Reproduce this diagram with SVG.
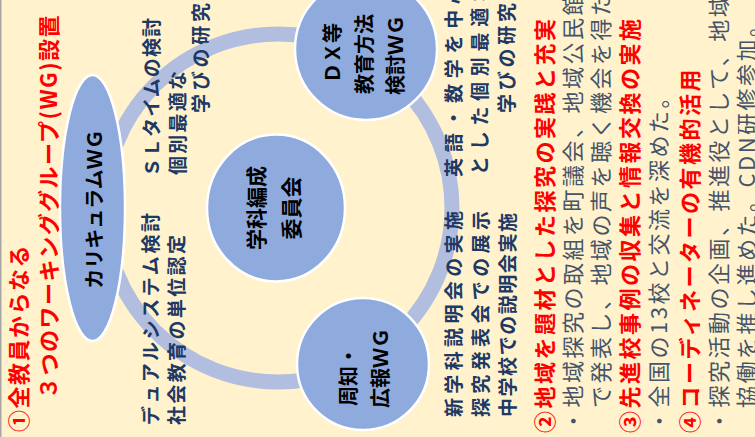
<svg xmlns="http://www.w3.org/2000/svg" width="755" height="437" viewBox="0 0 755 437">
<style>
text{font-family:'Noto Sans CJK JP','Noto Sans',sans-serif;dominant-baseline:central}
.node{fill:#8FAADC;stroke:#FFFFFF;stroke-width:2.5}
.nl{font-size:20px;font-weight:bold;fill:#000000}
.nv{font-size:19px;font-weight:bold;fill:#203864}
.hd{font-size:22px;font-weight:bold;fill:#FF0000;letter-spacing:2.5px}
.tt{font-size:22px;font-weight:bold;fill:#FF0000;letter-spacing:1.5px}
.bd{font-size:22px;fill:#44546A;letter-spacing:2.5px}
.ring{fill:none;stroke:#B1BEE0;stroke-width:15}
</style>
<rect x="0" y="0" width="755" height="437" fill="#FFF2CC"/>
<rect x="0" y="0" width="1.5" height="437" fill="#A6A6A6"/>
<g transform="matrix(0,-1,1,0,0,437)">
  <g id="connectors">
    <circle class="ring" cx="229" cy="278" r="174"/>
  </g>
  <g id="title">
    <text class="tt" x="5" y="17">①全教員からなる</text>
    <text class="tt" x="38" y="46.5">３つのワーキンググループ(WG)設置</text>
  </g>
  <g id="node-curriculum">
    <ellipse class="node" cx="229" cy="92.5" rx="133" ry="32.5"/>
    <text class="nl" x="228" y="93.5" text-anchor="middle">カリキュラムＷＧ</text>
  </g>
  <g id="node-committee">
    <ellipse class="node" cx="229" cy="276" rx="73.5" ry="69"/>
    <text class="nl" x="229" y="255" text-anchor="middle" style="font-size:21px">学科編成</text>
    <text class="nl" x="229" y="290" text-anchor="middle" style="font-size:21px">委員会</text>
  </g>
  <g id="node-dx">
    <circle class="node" cx="388" cy="366" r="71"/>
    <text class="nl" x="384" y="331" text-anchor="middle">ＤＸ等</text>
    <text class="nl" x="383" y="363" text-anchor="middle">教育方法</text>
    <text class="nl" x="382" y="394" text-anchor="middle">検討ＷＧ</text>
  </g>
  <g id="node-pr">
    <circle class="node" cx="73" cy="363" r="66"/>
    <text class="nl" x="31" y="347.5">周知・</text>
    <text class="nl" x="29" y="379">広報ＷＧ</text>
  </g>
  <g id="label-curriculum">
    <text class="nv" x="260" y="150" textLength="159" lengthAdjust="spacing">ＳＬタイムの検討</text>
    <text class="nv" x="262" y="176" textLength="104" lengthAdjust="spacing">個別最適な</text>
    <text class="nv" x="324" y="199" textLength="110" lengthAdjust="spacing">学びの研究</text>
    <text class="nv" x="12" y="149" textLength="212" lengthAdjust="spacing">デュアルシステム検討</text>
    <text class="nv" x="12" y="175" textLength="190" lengthAdjust="spacing">社会教育の単位認定</text>
  </g>
  <g id="label-dx">
    <text class="nv" x="260" y="452" textLength="192" lengthAdjust="spacing">英語・数学を中心</text>
    <text class="nv" x="262" y="478" textLength="192" lengthAdjust="spacing">とした個別最適な</text>
    <text class="nv" x="324" y="505" textLength="110" lengthAdjust="spacing">学びの研究</text>
  </g>
  <g id="label-pr">
    <text class="nv" x="20" y="452" textLength="206" lengthAdjust="spacing">新学科説明会の実施</text>
    <text class="nv" x="20" y="479" textLength="206" lengthAdjust="spacing">探究発表会での展示</text>
    <text class="nv" x="20" y="506" textLength="204" lengthAdjust="spacing">中学校での説明会実施</text>
  </g>
  <g id="results">
    <text class="hd" x="4" y="543">②地域を題材とした探究の実践と充実</text>
    <text class="bd" x="5" y="571">・地域探究の取組を町議会、地域公民館</text>
    <text class="bd" x="29" y="599">で発表し、地域の声を聴く機会を得た</text>
    <text class="hd" x="4" y="628">③先進校事例の収集と情報交換の実施</text>
    <text class="bd" x="5" y="657">・全国の13校と交流を深めた。</text>
    <text class="hd" x="4" y="688">④コーディネーターの有機的活用</text>
    <text class="bd" x="5" y="717">・探究活動の企画、推進役として、地域</text>
    <text class="bd" x="29" y="745">協働を推し進めた。CDN研修参加。</text>
  </g>
</g>
</svg>
